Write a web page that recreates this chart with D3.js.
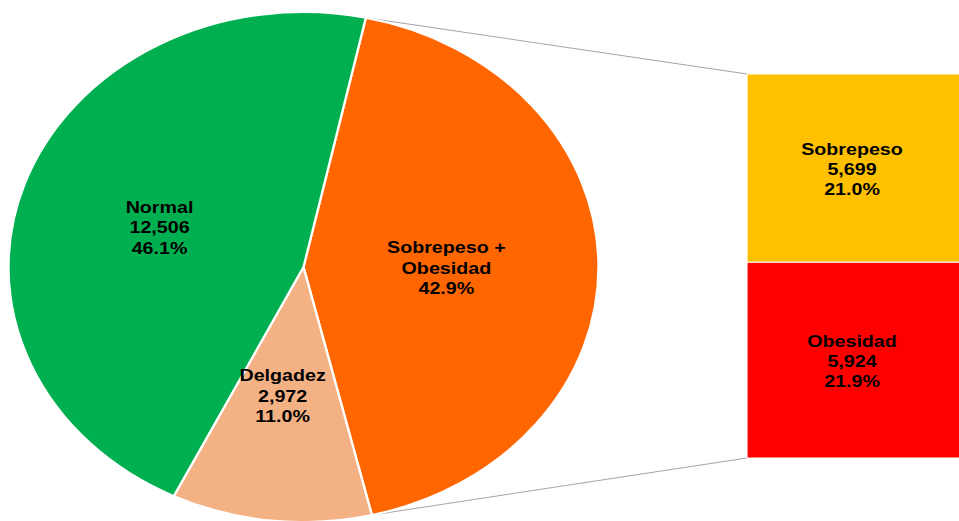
<!DOCTYPE html>
<html>
<head>
<meta charset="utf-8">
<script src="https://cdn.jsdelivr.net/npm/d3@7"></script>
<style>
  body { margin: 0; background: #fff; }
  text { font-family: "Liberation Sans", Arial, sans-serif; font-weight: bold; font-size: 17px; fill: #000; }
</style>
</head>
<body>
<svg id="chart" width="959" height="521"></svg>
<script>
// Pie slices (clockwise from the split line)
var pieLabels = ["Sobrepeso +\nObesidad", "Delgadez", "Normal"];
var pieValues = [11623, 2972, 12506];
var pieShowValue = [false, true, true];
var pieColours = ["#ff6600", "#f4b183", "#00b050"];

// Bar of pie (breakdown of Sobrepeso + Obesidad)
var barLabels = ["Sobrepeso", "Obesidad"];
var barValues = [5699, 5924];
var barColours = ["#ffc000", "#ff0000"];

var total = d3.sum(pieValues);
var fmt = d3.format(",");
var pct = function (v) { return d3.format(".1%")(v / total); };

// The whole picture is stretched horizontally
var sx = 295 / 255,
  radius = 255,
  cx = 303.5 / sx,
  cy = 267;

var svg = d3.select("#chart")
  .append("g")
  .attr("transform", "scale(" + sx + ",1)");

var startAngle = 12.2 * Math.PI / 180;

var pie = d3.pie()
  .value(function (d) { return d; })
  .sort(null)
  .startAngle(startAngle)
  .endAngle(startAngle + 2 * Math.PI);

var arcs = pie(pieValues);

var arc = d3.arc().innerRadius(0).outerRadius(radius);
var labelArc = d3.arc().innerRadius(radius * 0.5).outerRadius(radius * 0.5);

// Bar scales
var barLeft = 747 / sx,
  barWidth = 240 / sx;
var barY = d3.scaleLinear()
  .domain([0, d3.sum(barValues)])
  .range([74, 458]);

// Connector lines from the split slice edges to the bar
var split = arcs[0];
var p1 = [cx + Math.sin(split.startAngle) * radius, cy - Math.cos(split.startAngle) * radius];
var p2 = [cx + Math.sin(split.endAngle) * radius, cy - Math.cos(split.endAngle) * radius];
svg.append("line")
  .attr("x1", p1[0]).attr("y1", p1[1])
  .attr("x2", barLeft).attr("y2", barY(0))
  .attr("stroke", "#a6a6a6").attr("stroke-width", 1);
svg.append("line")
  .attr("x1", p2[0]).attr("y1", p2[1])
  .attr("x2", barLeft).attr("y2", barY(d3.sum(barValues)))
  .attr("stroke", "#a6a6a6").attr("stroke-width", 1);

var pieG = svg.append("g")
  .attr("transform", "translate(" + cx + "," + cy + ")");

pieG.selectAll("path")
  .data(arcs)
  .enter()
  .append("path")
  .attr("d", arc)
  .attr("fill", function (d, i) { return pieColours[i]; })
  .attr("stroke", "#fff")
  .attr("stroke-width", 2);

// Pie labels
pieG.selectAll(".plabel")
  .data(arcs)
  .enter()
  .append("text")
  .attr("class", "plabel")
  .attr("text-anchor", "middle")
  .attr("transform", function (d) {
    var c = labelArc.centroid(d);
    return "translate(" + (c[0] - 4) + "," + (c[1] + 2) + ")";
  })
  .each(function (d, i) {
    var lines = pieLabels[i].split("\n");
    if (pieShowValue[i]) lines.push(fmt(pieValues[i]));
    lines.push(pct(pieValues[i]));
    var t = d3.select(this);
    var n = lines.length;
    lines.forEach(function (l, k) {
      t.append("tspan")
        .attr("x", 0)
        .attr("y", (k - (n - 1) / 2) * 20.5)
        .attr("dy", "0.35em")
        .text(l);
    });
  });

// Bar segments
var cum = 0;
var segs = barValues.map(function (v) {
  var s = { y0: cum, y1: cum + v, v: v };
  cum += v;
  return s;
});

svg.selectAll(".seg")
  .data(segs)
  .enter()
  .append("rect")
  .attr("class", "seg")
  .attr("x", barLeft)
  .attr("y", function (d) { return barY(d.y0); })
  .attr("width", barWidth)
  .attr("height", function (d) { return barY(d.y1) - barY(d.y0); })
  .attr("fill", function (d, i) { return barColours[i]; })
  .attr("stroke", "#fff")
  .attr("stroke-width", 1);

svg.selectAll(".blabel")
  .data(segs)
  .enter()
  .append("text")
  .attr("class", "blabel")
  .attr("text-anchor", "middle")
  .attr("transform", function (d) {
    return "translate(" + (852 / sx) + "," + ((barY(d.y0) + barY(d.y1)) / 2 + 1) + ")";
  })
  .each(function (d, i) {
    var lines = [barLabels[i], fmt(d.v), pct(d.v)];
    var t = d3.select(this);
    lines.forEach(function (l, k) {
      t.append("tspan")
        .attr("x", 0)
        .attr("y", (k - 1) * 20)
        .attr("dy", "0.35em")
        .text(l);
    });
  });
</script>
</body>
</html>
